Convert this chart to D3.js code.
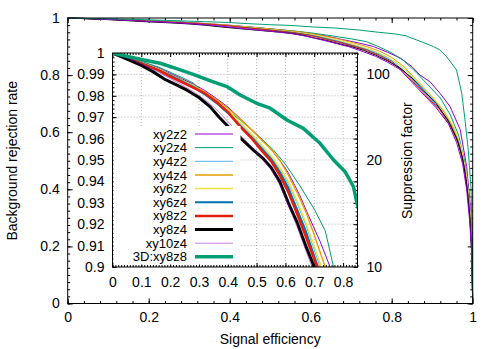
<!DOCTYPE html>
<html>
<head>
<meta charset="utf-8">
<script src="https://cdn.jsdelivr.net/npm/d3@7/dist/d3.min.js"></script>
<style>
    body { margin: 0; background: #fff; }
    svg text { font-family: "Liberation Sans", Arial, sans-serif; font-size: 14px; fill: #000; }
    svg .key text { font-size: 13px; }
</style>
</head>
<body>
<div id="chart"></div>
<script>
// ROC curves: [signal efficiency, background rejection]
const xy2z2 = [[0,1],[0.04,0.9985],[0.08,0.9968],[0.12,0.995],[0.16,0.993],[0.2,0.9905],[0.24,0.988],[0.28,0.9855],[0.32,0.9825],[0.36,0.9788],[0.4,0.9748],[0.43,0.971],[0.477,0.965],[0.52,0.9595],[0.547,0.9555],[0.58,0.95],[0.61,0.944],[0.648,0.934],[0.68,0.924],[0.72,0.912],[0.755,0.9],[0.79,0.88],[0.821,0.86],[0.85,0.83],[0.87,0.8],[0.895,0.776],[0.92,0.735],[0.944,0.69],[0.969,0.61],[0.985,0.48],[0.993,0.36],[0.998,0.2],[1,0]];
const xy2z4 = [[0,1],[0.04,0.9986],[0.08,0.997],[0.12,0.9952],[0.16,0.9934],[0.2,0.991],[0.24,0.9886],[0.28,0.986],[0.32,0.9808],[0.37,0.9755],[0.41,0.972],[0.443,0.9687],[0.5,0.962],[0.558,0.9547],[0.6,0.948],[0.65,0.938],[0.7,0.927],[0.738,0.917],[0.767,0.9],[0.8,0.878],[0.83,0.85],[0.86,0.81],[0.89,0.765],[0.92,0.72],[0.945,0.66],[0.965,0.59],[0.98,0.5],[0.99,0.39],[0.997,0.24],[1,0]];
const xy4z2 = [[0,1],[0.04,0.9985],[0.08,0.9966],[0.12,0.9947],[0.16,0.9926],[0.2,0.99],[0.24,0.9874],[0.28,0.9848],[0.32,0.9812],[0.36,0.9772],[0.4,0.9725],[0.44,0.9675],[0.48,0.962],[0.52,0.956],[0.55,0.9515],[0.58,0.946],[0.61,0.939],[0.64,0.93],[0.67,0.92],[0.72,0.9],[0.75,0.887],[0.78,0.869],[0.81,0.845],[0.84,0.81],[0.87,0.765],[0.9,0.72],[0.93,0.67],[0.955,0.61],[0.972,0.54],[0.985,0.44],[0.993,0.32],[0.998,0.19],[1,0]];
const xy4z4 = [[0,1],[0.04,0.9984],[0.08,0.9965],[0.12,0.9946],[0.16,0.9925],[0.2,0.99],[0.24,0.9874],[0.28,0.9848],[0.32,0.9817],[0.36,0.9782],[0.4,0.9742],[0.44,0.9695],[0.48,0.9645],[0.52,0.959],[0.55,0.955],[0.58,0.95],[0.61,0.943],[0.64,0.935],[0.67,0.926],[0.7,0.915],[0.738,0.9],[0.77,0.884],[0.8,0.862],[0.83,0.83],[0.86,0.785],[0.89,0.74],[0.92,0.69],[0.945,0.635],[0.965,0.57],[0.98,0.48],[0.99,0.37],[0.997,0.23],[1,0]];
const xy6z2 = [[0,1],[0.04,0.9983],[0.08,0.9964],[0.12,0.9944],[0.16,0.9923],[0.2,0.9897],[0.24,0.9871],[0.28,0.9845],[0.32,0.9812],[0.36,0.9774],[0.4,0.973],[0.44,0.968],[0.48,0.9625],[0.52,0.9565],[0.55,0.952],[0.58,0.9465],[0.61,0.94],[0.64,0.931],[0.67,0.921],[0.725,0.9],[0.755,0.886],[0.785,0.866],[0.81,0.845],[0.84,0.81],[0.87,0.77],[0.9,0.725],[0.93,0.675],[0.955,0.615],[0.972,0.545],[0.985,0.45],[0.993,0.33],[0.998,0.19],[1,0]];
const xy6z4 = [[0,1],[0.04,0.9983],[0.08,0.9963],[0.12,0.9942],[0.16,0.992],[0.2,0.9895],[0.24,0.9868],[0.28,0.9842],[0.32,0.9807],[0.36,0.9767],[0.4,0.972],[0.44,0.9665],[0.48,0.961],[0.52,0.955],[0.55,0.9505],[0.58,0.9445],[0.61,0.937],[0.64,0.927],[0.67,0.917],[0.71,0.901],[0.74,0.888],[0.77,0.871],[0.8,0.849],[0.83,0.815],[0.86,0.77],[0.89,0.725],[0.92,0.68],[0.945,0.625],[0.965,0.565],[0.98,0.475],[0.99,0.36],[0.997,0.22],[1,0]];
const xy8z2 = [[0,1],[0.04,0.9982],[0.08,0.9961],[0.12,0.994],[0.16,0.9919],[0.2,0.989],[0.24,0.9864],[0.28,0.9838],[0.32,0.9812],[0.36,0.9772],[0.4,0.9725],[0.44,0.966],[0.48,0.9605],[0.52,0.954],[0.55,0.9495],[0.58,0.943],[0.61,0.935],[0.64,0.925],[0.67,0.9145],[0.71,0.9],[0.74,0.886],[0.77,0.868],[0.8,0.845],[0.83,0.81],[0.86,0.765],[0.89,0.72],[0.92,0.675],[0.945,0.62],[0.965,0.56],[0.98,0.47],[0.99,0.36],[0.997,0.22],[1,0]];
const xy8z4 = [[0,1],[0.03,0.9983],[0.06,0.9966],[0.1,0.9942],[0.14,0.9913],[0.18,0.9878],[0.22,0.9852],[0.26,0.9825],[0.3,0.9792],[0.34,0.9747],[0.37,0.97],[0.41,0.9645],[0.45,0.9595],[0.49,0.9545],[0.52,0.951],[0.55,0.9465],[0.58,0.94],[0.61,0.93],[0.64,0.921],[0.67,0.91],[0.7,0.9],[0.73,0.887],[0.76,0.87],[0.79,0.85],[0.82,0.825],[0.85,0.79],[0.88,0.745],[0.91,0.7],[0.94,0.64],[0.96,0.58],[0.975,0.51],[0.985,0.42],[0.993,0.3],[0.998,0.17],[1,0]];
const xy10z4 = [[0,1],[0.04,0.9982],[0.08,0.996],[0.12,0.9936],[0.16,0.991],[0.2,0.988],[0.24,0.9852],[0.28,0.982],[0.32,0.9783],[0.36,0.9737],[0.4,0.968],[0.44,0.962],[0.48,0.9565],[0.52,0.9505],[0.55,0.946],[0.58,0.9385],[0.61,0.929],[0.64,0.919],[0.67,0.908],[0.695,0.899],[0.73,0.882],[0.76,0.866],[0.79,0.845],[0.82,0.82],[0.85,0.775],[0.88,0.73],[0.91,0.685],[0.94,0.63],[0.96,0.565],[0.975,0.49],[0.985,0.4],[0.993,0.28],[0.998,0.16],[1,0]];
const xy8z8_3D = [[0,1],[0.049,0.9985],[0.1,0.997],[0.165,0.9952],[0.22,0.9928],[0.28,0.99],[0.34,0.987],[0.397,0.9843],[0.443,0.9804],[0.5,0.9765],[0.547,0.9742],[0.605,0.9687],[0.662,0.9648],[0.72,0.9578],[0.767,0.95],[0.807,0.9445],[0.836,0.9375],[0.848,0.93],[0.862,0.923],[0.903,0.9],[0.919,0.888],[0.936,0.864],[0.96,0.818],[0.973,0.736],[0.981,0.643],[0.989,0.538],[0.996,0.4],[0.999,0.2],[1,0]];

const seriesNames = ['xy2z2', 'xy2z4', 'xy4z2', 'xy4z4', 'xy6z2', 'xy6z4', 'xy8z2', 'xy8z4', 'xy10z4', '3D:xy8z8'];
const seriesData = [xy2z2, xy2z4, xy4z2, xy4z4, xy6z2, xy6z4, xy8z2, xy8z4, xy10z4, xy8z8_3D];
const seriesColors = ['#9400d3', '#009e73', '#56b4e9', '#e69f00', '#f0e442', '#0072b2', '#e51e10', '#000000', '#9400d3', '#009e73'];
const insetWidths = [1, 1, 1, 1.4, 1.5, 2, 2.5, 3, 0.5, 3.5];

const outerTicks = [0, 0.2, 0.4, 0.6, 0.8, 1];
const insetXTicks = [0, 0.1, 0.2, 0.3, 0.4, 0.5, 0.6, 0.7, 0.8];
const insetYTicks = [0.9, 0.91, 0.92, 0.93, 0.94, 0.95, 0.96, 0.97, 0.98, 0.99, 1];
const suppressionTicks = [10, 20, 100];

function range(a, b, step) {
    return d3.range(Math.round((b - a) / step) + 1).map(i => +(a + i * step).toFixed(4));
}

const svg = d3.select('#chart')
    .append('svg')
    .attr('width', 498)
    .attr('height', 349);

// outer frame
const outer = { left: 67.7, top: 18, width: 405, height: 285.5 };
const inset = { left: 112.5, top: 53, width: 245, height: 214 };

const x = d3.scaleLinear().domain([0, 1]).range([outer.left, outer.left + outer.width]);
const y = d3.scaleLinear().domain([0, 1]).range([outer.top + outer.height, outer.top]);
const xi = d3.scaleLinear().domain([0, 0.85]).range([inset.left, inset.left + inset.width]);
const yi = d3.scaleLinear().domain([0.9, 1]).range([inset.top + inset.height, inset.top]);

function addAxis(g, axisFn, scale, transform, major, minor, size, padding, labels) {
    g.append('g')
        .attr('transform', transform)
        .call(axisFn(scale).tickValues(minor).tickSize(-size / 2).tickFormat(''))
        .call(s => s.select('.domain').remove())
        .selectAll('line').attr('stroke', '#000');
    const a = g.append('g')
        .attr('transform', transform)
        .call(axisFn(scale).tickValues(major).tickSize(-size).tickPadding(padding)
            .tickFormat(labels ? d3.format('~g') : ''));
    a.select('.domain').remove();
    a.selectAll('line').attr('stroke', '#000');
    a.selectAll('text').style('font-size', '14px').style('font-family', '"Liberation Sans", Arial, sans-serif');
    return a;
}

// outer axes
const og = svg.append('g').classed('outer', true);
addAxis(og, d3.axisBottom, x, `translate(0,${y(0)})`, outerTicks, range(0, 1, 0.04), 5, 9, true);
addAxis(og, d3.axisTop, x, `translate(0,${y(1)})`, outerTicks, range(0, 1, 0.04), 5, 0, false);
addAxis(og, d3.axisLeft, y, `translate(${x(0)},0)`, outerTicks, range(0, 1, 0.025), 5, 8, true);
addAxis(og, d3.axisRight, y, `translate(${x(1)},0)`, outerTicks, range(0, 1, 0.025), 5, 0, false);

// outer curves
const outerLine = d3.line().x(d => x(d[0])).y(d => y(d[1]));
og.selectAll('path.curve')
    .data(seriesData)
    .join('path')
    .classed('curve', true)
    .attr('d', outerLine)
    .attr('fill', 'none')
    .attr('stroke', (d, i) => seriesColors[i])
    .attr('stroke-width', 1);

og.append('rect')
    .attr('x', outer.left).attr('y', outer.top)
    .attr('width', outer.width).attr('height', outer.height)
    .attr('fill', 'none').attr('stroke', '#000');

// labels
svg.append('text')
    .attr('x', x(0.5)).attr('y', 344)
    .attr('text-anchor', 'middle')
    .text('Signal efficiency');
svg.append('text')
    .attr('transform', `translate(17,${y(0.5)}) rotate(-90)`)
    .attr('text-anchor', 'middle')
    .text('Background rejection rate');
svg.append('text')
    .attr('transform', `translate(412,${y(0.5)}) rotate(-90)`)
    .attr('text-anchor', 'middle')
    .text('Suppression factor');

// inset
const ig = svg.append('g').classed('inset', true);
ig.append('rect')
    .attr('x', inset.left).attr('y', inset.top)
    .attr('width', inset.width).attr('height', inset.height)
    .attr('fill', '#fff');

ig.append('clipPath').attr('id', 'inset-clip')
    .append('rect')
    .attr('x', inset.left).attr('y', inset.top)
    .attr('width', inset.width).attr('height', inset.height);

// grid
ig.append('g')
    .selectAll('line')
    .data(insetXTicks.slice(1))
    .join('line')
    .attr('x1', d => xi(d)).attr('x2', d => xi(d))
    .attr('y1', inset.top).attr('y2', inset.top + inset.height)
    .attr('stroke', '#a0a0a0').attr('stroke-width', 0.8).attr('stroke-dasharray', '1,2');
ig.append('g')
    .selectAll('line')
    .data(insetYTicks.slice(1, -1))
    .join('line')
    .attr('x1', inset.left).attr('x2', inset.left + inset.width)
    .attr('y1', d => yi(d)).attr('y2', d => yi(d))
    .attr('stroke', '#a0a0a0').attr('stroke-width', 0.8).attr('stroke-dasharray', '1,2');

addAxis(ig, d3.axisBottom, xi, `translate(0,${yi(0.9)})`, insetXTicks, range(0, 0.85, 0.01), 4, 10, true);
addAxis(ig, d3.axisTop, xi, `translate(0,${yi(1)})`, insetXTicks, range(0, 0.85, 0.01), 4, 0, false);
addAxis(ig, d3.axisLeft, yi, `translate(${xi(0)},0)`, insetYTicks, range(0.9, 1, 0.002), 4, 8, true);
addAxis(ig, d3.axisRight, yi, `translate(${xi(0.85)},0)`, insetYTicks, range(0.9, 1, 0.002), 4, 0, false);

// inset curves
const insetLine = d3.line().x(d => xi(d[0])).y(d => yi(d[1]));
ig.append('g')
    .attr('clip-path', 'url(#inset-clip)')
    .selectAll('path')
    .data(seriesData)
    .join('path')
    .attr('d', insetLine)
    .attr('fill', 'none')
    .attr('stroke', (d, i) => seriesColors[i])
    .attr('stroke-width', (d, i) => insetWidths[i])
    .attr('stroke-linejoin', 'round');

// legend (opaque key)
const key = ig.append('g').classed('key', true);
const keyTop = 134, keyStep = 13.65;
key.append('rect')
    .attr('x', inset.left + 1).attr('y', keyTop - 8)
    .attr('width', 127).attr('height', keyStep * seriesNames.length + 2)
    .attr('fill', '#fff');
const entries = key.selectAll('g.entry')
    .data(seriesNames)
    .join('g')
    .classed('entry', true)
    .attr('transform', (d, i) => `translate(0,${keyTop + i * keyStep})`);
entries.append('text')
    .attr('x', 187).attr('dy', '0.35em')
    .attr('text-anchor', 'end')
    .text(d => d);
entries.append('line')
    .attr('x1', 195).attr('x2', 233)
    .attr('stroke', (d, i) => seriesColors[i])
    .attr('stroke-width', (d, i) => insetWidths[i]);

ig.append('rect')
    .attr('x', inset.left).attr('y', inset.top)
    .attr('width', inset.width).attr('height', inset.height)
    .attr('fill', 'none').attr('stroke', '#000');

// suppression factor labels = 1/(1 - rejection)
ig.selectAll('text.y2')
    .data(suppressionTicks)
    .join('text')
    .classed('y2', true)
    .attr('x', inset.left + inset.width + 9)
    .attr('y', d => yi(1 - 1 / d))
    .attr('dy', '0.35em')
    .text(d => d);
</script>
</body>
</html>
